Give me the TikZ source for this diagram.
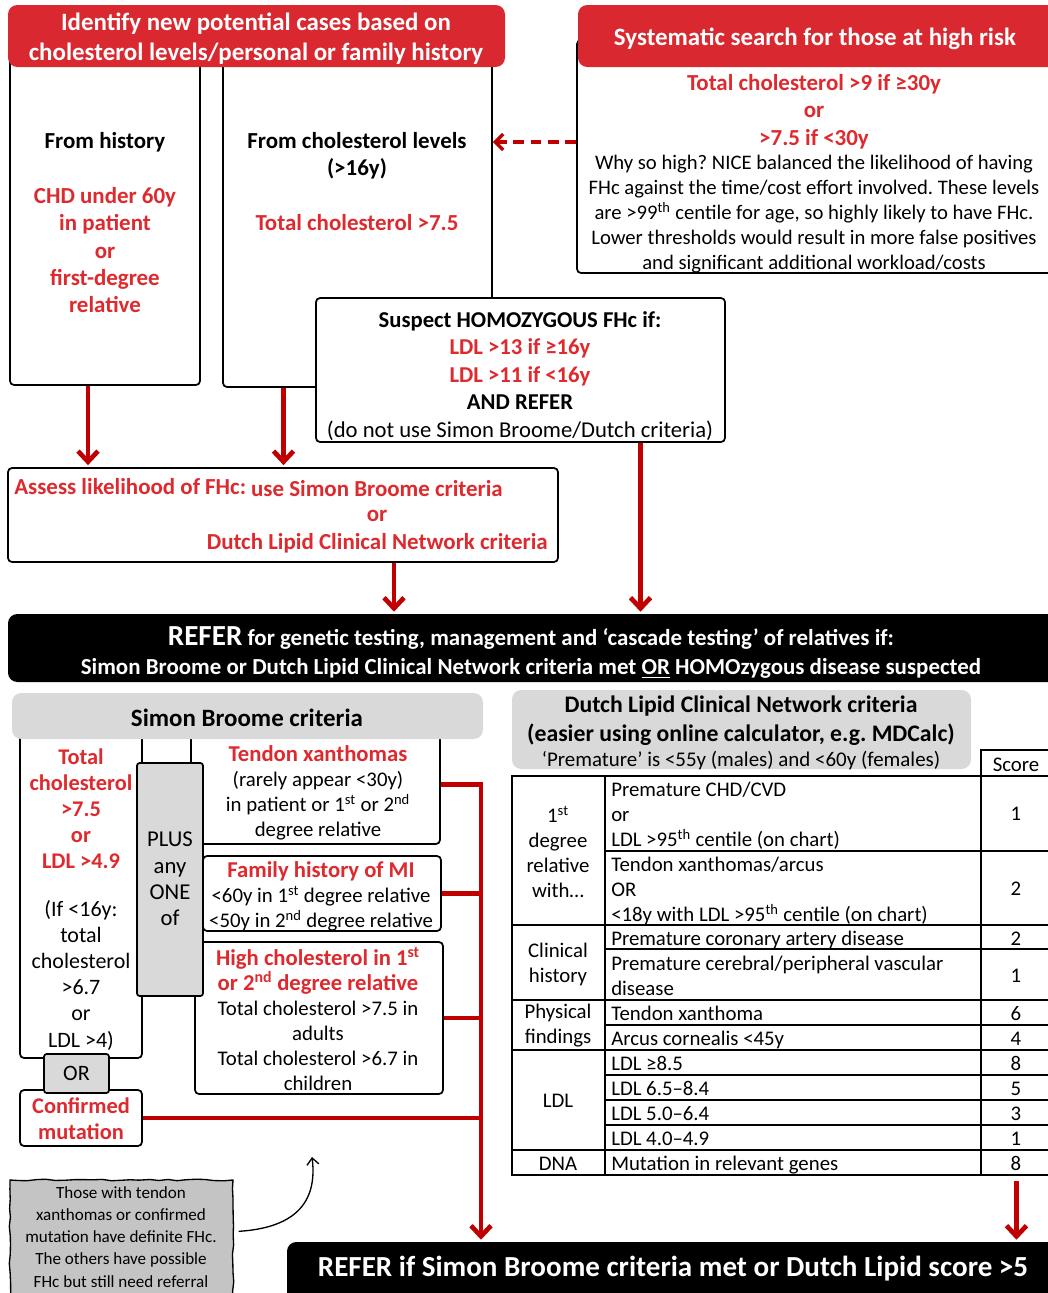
\documentclass[tikz,border=0pt]{standalone}
\usepackage{fontspec}
\setmainfont{Carlito}
\usepackage{tikz}
\usetikzlibrary{positioning, arrows.meta, fit, calc, decorations.pathmorphing}
\definecolor{hdred}{HTML}{D9282F}
\definecolor{txred}{HTML}{DE2A2E}
\definecolor{arred}{HTML}{C00000}
\definecolor{lgray}{HTML}{D9D9D9}
\definecolor{ngray}{HTML}{C4C4C4}
\newcommand{\fsz}[2]{\fontsize{#1}{#2}\selectfont}
\newcommand{\redb}[1]{{\fsz{17}{18.75}\bfseries\color{txred}#1}}
\frenchspacing
\tikzset{
  bx/.style={draw=black, line width=1.3pt, rounded corners=3pt, fill=white, inner sep=0pt},
  sq/.style={draw=black, line width=1.3pt, fill=white, inner sep=0pt},
  hdr/.style={fill=hdred, rounded corners=7pt, inner sep=0pt},
  gry/.style={fill=lgray, rounded corners=7pt, inner sep=0pt},
  blk/.style={fill=black, rounded corners=7pt, inner sep=0pt},
  note/.style={draw=black, line width=1pt, fill=ngray, inner sep=0pt,
    decorate, decoration={random steps, segment length=7pt, amplitude=0.6pt}},
  tx/.style={font=\fsz{15.6}{18.75}, align=center, inner sep=0pt},
  txr/.style={tx, font=\fsz{17.2}{20.5}\bfseries, text=txred},
  txb/.style={tx, font=\fsz{17.2}{20.5}\bfseries},
  htx/.style={tx, font=\fsz{18.7}{22.5}\bfseries, text=white},
  cl/.style={tx, anchor=west, text height=10.5pt, text depth=3pt, yshift=-1.5pt},
  sc/.style={tx, text height=10.5pt, text depth=3pt, yshift=-1.5pt},
  tbl/.style={line width=1.3pt, draw=black},
  arr/.style={-{Straight Barb[length=8pt, width=15pt]}, line width=3.5pt, color=arred, shorten >=1.5pt},
  lnk/.style={line width=3.5pt, color=arred},
  dsh/.style={-{Straight Barb[length=6pt, width=12pt]}, line width=2.5pt, color=arred, dash pattern=on 8pt off 5pt},
  cur/.style={-{Straight Barb[length=5pt, width=9pt]}, line width=1pt, color=black},
}

\begin{document}
\begin{tikzpicture}[x=0.75pt, y=-0.75pt]
  \useasboundingbox (0,0) rectangle (1048,1293);
  % top boxes
  \node[bx, fit={(10,40) (200,385)}] (hist) {};
  \node[bx, fit={(223,40) (492,387)}] (chol) {};
  \node[bx, fit={(577,40) (1070,273)}] (sys) {};
  \node[hdr, fit={(8,5) (505,67)}] (idh) {};
  \node[htx] at (256,39) {Identify new potential cases based on\\cholesterol levels/personal or family history};
  \node[hdr, fit={(578,5) (1070,67)}] (sysh) {};
  \node[htx] at (815,39) {Systematic search for those at high risk};
  \node[txb, anchor=north] at (105,132) {From history};
  \node[txr, anchor=north] at (105,187) {CHD under 60y\\in patient\\or\\first-degree\\relative};
  \node[txb, anchor=north] at (357,132) {From cholesterol levels\\(>16y)};
  \node[txr, anchor=north] at (357,214) {Total cholesterol >7.5};
  \node[txr, anchor=north] at (814,74) {Total cholesterol >9 if ≥30y\\or\\>7.5 if <30y};
  \node[tx, anchor=north, font=\fsz{15.5}{18.75}] at (814,155) {Why so high? NICE balanced the likelihood of having\\FHc against the time/cost effort involved. These levels\\are >99\textsuperscript{th} centile for age, so highly likely to have FHc.\\Lower thresholds would result in more false positives\\and significant additional workload/costs};
  \coordinate (dy) at (0,142);
  \draw[dsh] (sys.west |- dy) -- (chol.east |- dy);
  % homozygous
  \node[bx, fit={(316,298) (725,442)}] (homo) {};
  \node[tx, anchor=north, font=\fsz{17}{20.6}] at (520,311) {\textbf{Suspect HOMOZYGOUS FHc if:}\\\textcolor{txred}{\textbf{LDL >13 if ≥16y}}\\\textcolor{txred}{\textbf{LDL >11 if <16y}}\\\textbf{AND REFER}\\(do not use Simon Broome/Dutch criteria)};
  % assess
  \node[bx, fit={(8,468) (558,562)}] (ass) {};
  \node[txr, anchor=west] at (14,487) {Assess likelihood of FHc:};
  \node[txr, anchor=east] at (503,489) {use Simon Broome criteria};
  \node[txr] at (377,516) {or};
  \node[txr, anchor=east] at (548,543) {Dutch Lipid Clinical Network criteria};
  \coordinate (a1) at ($(hist.south)+(-17,0)$);
  \coordinate (a2) at ($(chol.south)+(-74,0)$);
  \draw[arr] (a1) -- (a1 |- ass.north);
  \draw[arr] (a2) -- (a2 |- ass.north);
  % first referral
  \node[blk, fit={(8,614) (1070,682)}] (ref1) {};
  \node[htx, font=\fsz{17.2}{21.75}\bfseries] at (531,653) {{\fsz{21.8}{21.75}REFER} for genetic testing, management and ‘cascade testing’ of relatives if:\\Simon Broome or Dutch Lipid Clinical Network criteria met \underline{OR} HOMOzygous disease suspected};
  \coordinate (a3) at ($(ass.south)+(111,0)$);
  \coordinate (a4) at ($(homo.south)+(120,0)$);
  \draw[arr] (a3) -- (a3 |- ref1.north);
  \draw[arr] (a4) -- (a4 |- ref1.north);
  % Simon Broome
  \node[bx, fit={(20,725) (142,1058)}] (tcl) {};
  \node[bx, fit={(191,725) (440,844)}] (tend) {};
  \node[bx, fit={(203,856) (441,931)}] (fmi) {};
  \node[bx, fit={(195,942) (443,1094)}] (hcl) {};
  \node[bx, fill=lgray, rounded corners=2pt, fit={(137,763) (203,996)}] (plus) {};
  \node[bx, fit={(20,1090) (142,1146)}] (conf) {};
  \node[bx, fill=lgray, rounded corners=2pt, fit={(44,1054) (109,1093)}] (orb) {};
  \node[gry, fit={(12,693) (483,739)}] (sbh) {};
  \node[txb, font=\fsz{18.7}{20}\bfseries] at (247,718) {Simon Broome criteria};
  \node[txr, anchor=north, font=\fsz{16.8}{19.5}\bfseries] at (81,749) {Total\\cholesterol\\>7.5\\or\\LDL >4.9};
  \node[tx, anchor=north, font=\fsz{16.5}{19.6}] at (81,900) {(If <16y:\\total\\cholesterol\\>6.7\\or\\LDL >4)};
  \node[tx, anchor=north] at (318,745) {\redb{Tendon xanthomas}\\(rarely appear <30y)\\in patient or 1\textsuperscript{st} or 2\textsuperscript{nd}\\degree relative};
  \node[tx, anchor=north] at (321,861) {\redb{Family history of MI}\\<60y in 1\textsuperscript{st} degree relative\\<50y in 2\textsuperscript{nd} degree relative};
  \node[tx, anchor=north] at (318,947) {\redb{High cholesterol in 1\textsuperscript{st}}\\\redb{or 2\textsuperscript{nd} degree relative}\\Total cholesterol >7.5 in\\adults\\Total cholesterol >6.7 in\\children};
  \node[tx, anchor=north, font=\fsz{17}{19.7}] at (170,832) {PLUS\\any\\ONE\\of};
  \node[tx, font=\fsz{16.5}{18}] at (orb.center) {OR};
  \node[txr, anchor=north, font=\fsz{16.8}{19.5}\bfseries] at (81,1097) {Confirmed\\mutation};
  \coordinate (sbx) at (481,0);
  \node[blk, fit={(287,1242) (1070,1320)}] (ref2) {};
  \draw[arr] (tend.east) -- (tend.east -| sbx) -- (ref2.north -| sbx);
  \draw[lnk] (fmi.east) -- (fmi.east -| sbx);
  \draw[lnk] (hcl.east) -- (hcl.east -| sbx);
  \draw[lnk] (conf.east) -- (conf.east -| sbx);
  % Dutch Lipid
  \node[gry, fit={(512,690) (971,769)}] (dlh) {};
  \node[txb, anchor=north, font=\fsz{17.8}{21.8}\bfseries] at (741,696) {Dutch Lipid Clinical Network criteria\\(easier using online calculator, e.g. MDCalc)};
  \node[tx, font=\fsz{15.7}{18.75}] at (741,761) {‘Premature’ is <55y (males) and <60y (females)};
  \node[sq, fit={(981,750) (1052,776)}] (sch) {};
  \node[sc] at (1016,764) {Score};
  \node[sq, fit={(512,776) (1052,1175)}] (dtab) {};
  \draw[tbl] (605,776) -- (605,1175) (981,776) -- (981,1175);
  \foreach \y in {925,1000,1050,1150} \draw[tbl] (512,\y) -- (1052,\y);
  \foreach \y in {851,949,1025,1075,1100,1125} \draw[tbl] (605,\y) -- (1052,\y);
  \node[tx] at (558,852) {1\textsuperscript{st}\\degree\\relative\\with…};
  \node[tx] at (558,964) {Clinical\\history};
  \node[tx] at (558,1026) {Physical\\findings};
  \node[tx] at (558,1101) {LDL};
  \node[tx] at (558,1164) {DNA};
  \node[tx, align=left, anchor=north west] at (611,782) {Premature CHD/CVD\\or\\LDL >95\textsuperscript{th} centile (on chart)};
  \node[tx, align=left, anchor=north west] at (611,857) {Tendon xanthomas/arcus\\OR\\<18y with LDL >95\textsuperscript{th} centile (on chart)};
  \node[tx, align=left, anchor=north west] at (611,956) {Premature cerebral/peripheral vascular\\disease};
  \node[sc] at (1016,813) {1};
  \node[sc] at (1016,888) {2};
  \node[sc] at (1016,975) {1};
  \foreach \y/\lab/\val in {938/Premature coronary artery disease/2, 1013/Tendon xanthoma/6,
      1038/Arcus cornealis <45y/4, 1063/LDL ≥8.5/8, 1088/LDL 6.5–8.4/5, 1113/LDL 5.0–6.4/3,
      1138/LDL 4.0–4.9/1, 1163/Mutation in relevant genes/8}{
    \node[cl] at (611,\y) {\lab};
    \node[sc] at (1016,\y) {\val};
  }
  \draw[arr] ([yshift=-4pt]dtab.south -| sch.south) -- (ref2.north -| sch.south);
  % final referral
  \node[htx, font=\fsz{21.8}{22}\bfseries] at (673,1269) {REFER if Simon Broome criteria met or Dutch Lipid score >5};
  % note
  \node[note, fit={(10,1180) (233,1310)}] (note) {};
  \node[tx, anchor=north, font=\fsz{12.8}{16.7}] at (121,1186) {Those with tendon\\xanthomas or confirmed\\mutation have definite FHc.\\The others have possible\\FHc but still need referral};
  \coordinate (ntip) at (312,1157);
  \draw[cur] ($(note.north east)+(5,52)$) .. controls (292,1228) and (318,1205) .. (ntip);
\end{tikzpicture}
\end{document}
